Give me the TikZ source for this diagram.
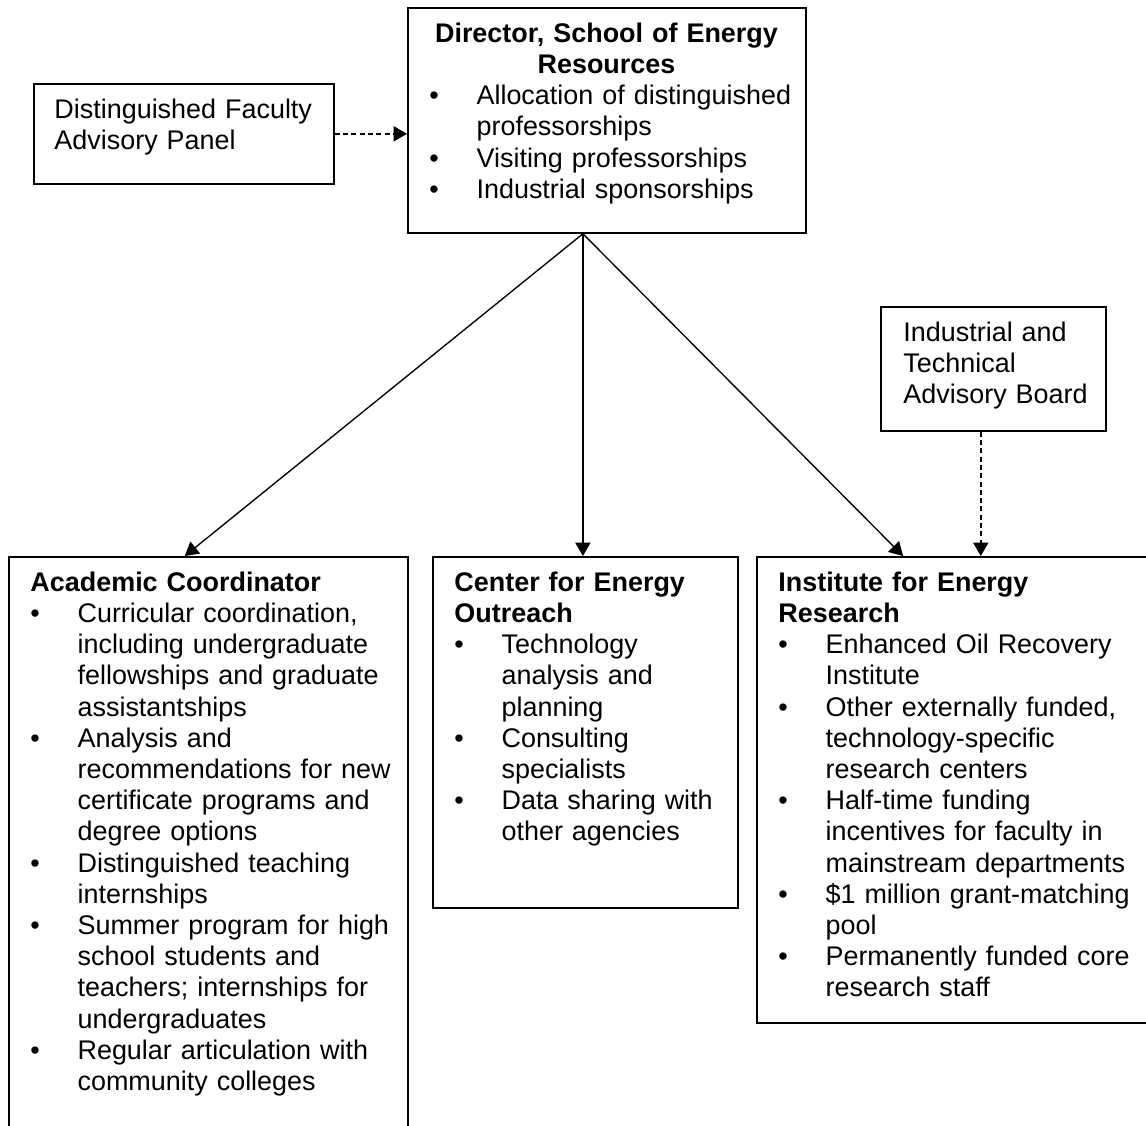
\documentclass[tikz,border=0pt]{standalone}
\usepackage{fontspec}
\setmainfont{Liberation Sans}
\usetikzlibrary{arrows.meta}
\newcommand{\bitem}[1]{\par\noindent\hangindent=21pt\hangafter=1\makebox[21pt][l]{\textbullet}#1\par}
\tikzset{
  box/.style={draw,line width=0.8pt,anchor=north west,inner sep=0pt},
  txt/.style={anchor=north west,inner sep=0pt,text width=175pt,align=left,font=\fontsize{12pt}{13.9pt}\selectfont},
  adv/.style={->,dash pattern=on 2.2pt off 1.5pt,line width=0.7pt},
  rep/.style={->,line width=0.6pt}
}
\begin{document}
\begin{tikzpicture}[x=0.4454pt,y=-0.4454pt,>={Triangle[length=6pt,width=6.8pt]}]
\useasboundingbox (0,0) rectangle (1146,1126);
% top row
\node[box,minimum width=133.6pt,minimum height=44.5pt] (fac) at (33,83) {};
\node[txt] (factxt) at ([shift={(21,13)}]fac.north west) {\strut Distinguished Faculty\newline Advisory Panel};
\node[box,minimum width=177.3pt,minimum height=100.2pt] (dir) at (407,7) {};
\node[txt] (dirtxt) at ([shift={(22,13)}]dir.north west)
  {\strut\makebox[157.7pt]{\textbf{Director, School of Energy}}\newline
   \makebox[157.7pt]{\textbf{Resources}}%
   \bitem{Allocation of distinguished\newline professorships}%
   \bitem{Visiting professorships}%
   \bitem{Industrial sponsorships}};
\node[box,minimum width=100.2pt,minimum height=55.2pt] (ind) at (880,306) {};
\node[txt] (indtxt) at ([shift={(23,13)}]ind.north west) {\strut Industrial and\newline Technical\newline Advisory Board};
% bottom row
\node[box,minimum width=177.7pt,minimum height=276pt] (acad) at (8,556) {};
\node[txt] (acadtxt) at ([shift={(22,13)}]acad.north west)
  {\strut\textbf{Academic Coordinator}%
   \bitem{Curricular coordination,\newline including undergraduate\newline fellowships and graduate\newline assistantships}%
   \bitem{Analysis and\newline recommendations for new\newline certificate programs and\newline degree options}%
   \bitem{Distinguished teaching\newline internships}%
   \bitem{Summer program for high\newline school students and\newline teachers; internships for\newline undergraduates}%
   \bitem{Regular articulation with\newline community colleges}};
\node[box,minimum width=135.8pt,minimum height=156.3pt] (ctr) at (432,556) {};
\node[txt] (ctrtxt) at ([shift={(22,13)}]ctr.north west)
  {\strut\textbf{Center for Energy}\newline\textbf{Outreach}%
   \bitem{Technology\newline analysis and\newline planning}%
   \bitem{Consulting\newline specialists}%
   \bitem{Data sharing with\newline other agencies}};
\node[box,minimum width=200pt,minimum height=207.6pt] (inst) at (756,556) {};
\node[txt] (insttxt) at ([shift={(22,13)}]inst.north west)
  {\strut\textbf{Institute for Energy}\newline\textbf{Research}%
   \bitem{Enhanced Oil Recovery\newline Institute}%
   \bitem{Other externally funded,\newline technology-specific\newline research centers}%
   \bitem{Half-time funding\newline incentives for faculty in\newline mainstream departments}%
   \bitem{\$1 million grant-matching\newline pool}%
   \bitem{Permanently funded core\newline research staff}};
% connectors
\coordinate (dirout) at ([xshift=-10.7pt]dir.south);
\draw[rep] (dirout) -- ([xshift=-10.5pt]acad.north);
\draw[rep] (dirout) -- (dirout |- ctr.north);
\draw[rep] (dirout) -- ([xshift=65.5pt]inst.north west);
\draw[adv] (fac.east) -- (fac.east -| dir.west);
\coordinate (indout) at ([xshift=-5.6pt]ind.south);
\draw[adv] (indout) -- (indout |- inst.north);
\end{tikzpicture}
\end{document}
